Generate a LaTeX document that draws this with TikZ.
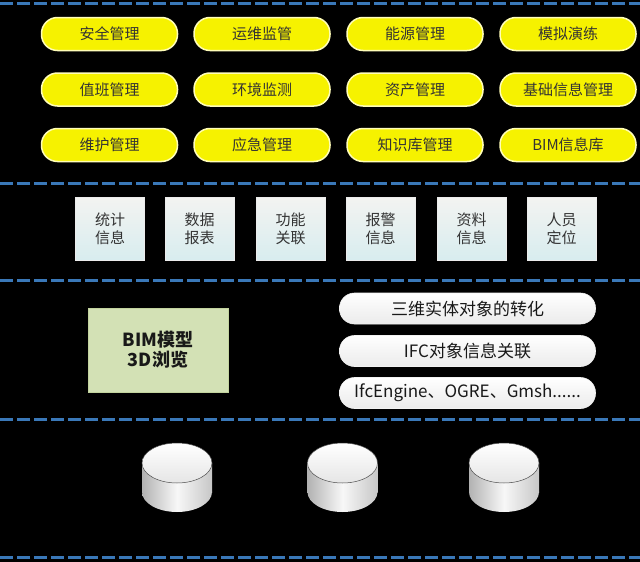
\documentclass[tikz,border=0pt]{standalone}
\usepackage{fontspec}
\setmainfont{Noto Sans CJK SC}
\definecolor{dashblue}{HTML}{3A78B8}
\definecolor{pillyellow}{HTML}{F6F200}
\definecolor{pilledge}{HTML}{FFFDB8}
\definecolor{boxtop}{HTML}{F3F3F1}
\definecolor{boxbot}{HTML}{D8EDEF}
\definecolor{bimgreen}{HTML}{D3E1B5}
\definecolor{bimedge}{HTML}{C2D39E}
\definecolor{txtgray}{HTML}{333333}
\tikzset{
  sep/.style={dashblue, line width=3pt, dash pattern=on 13pt off 4pt},
  ypill/.style={rounded corners=16pt, minimum width=136pt, minimum height=33pt, inner sep=0pt,
    fill=pillyellow, draw=pilledge, line width=1.5pt, text=txtgray,
    font=\fontsize{15}{17}\selectfont},
  gbox/.style={minimum width=69pt, minimum height=63pt, inner sep=0pt, align=center,
    top color=boxtop, bottom color=boxbot, draw=white!85!gray, line width=0.4pt,
    text=txtgray, font=\fontsize{15}{18}\selectfont},
  wpill/.style={rounded corners=15pt, minimum width=256pt, minimum height=31pt, inner sep=0pt,
    top color=white, bottom color=black!8, draw=white!90!gray, line width=0.6pt,
    text=black!90, font=\fontsize{17}{19}\selectfont},
  bimbox/.style={minimum width=140pt, minimum height=84pt, inner sep=0pt, align=center,
    fill=bimgreen, draw=bimedge, line width=0.8pt, text=black!90,
    font=\fontsize{18}{20}\selectfont\bfseries},
  dbside/.style={left color=black!30, right color=black!22, middle color=black!3},
  dbtop/.style={top color=white, bottom color=black!10, draw=black!70, line width=0.5pt}
}
\newcommand{\dbcyl}[2]{%
  \coordinate (#1) at (#2,463);
  \shade[dbside] (#2,492) ellipse (35 and 20);
  \shade[dbside] (#2-35,463) rectangle (#2+35,492);
  \shade[dbtop] (#2,463) ellipse (35 and 20);
}
\begin{document}
\begin{tikzpicture}[x=1pt,y=-1pt]
\fill[black] (0,0) rectangle (640,562);
\useasboundingbox (0,0) rectangle (640,562);
% separators
\foreach \yy/\nm in {3/s1,183/s2,280/s3,419/s4,557/s5}{
  \coordinate (\nm a) at (0,\yy);
  \coordinate (\nm b) at (640,\yy);
  \draw[sep] (\nm a) -- (\nm b);
}
% application layer
\node[ypill] (p11) at (109.5,34) {安全管理};
\node[ypill] (p12) at (262,34) {运维监管};
\node[ypill] (p13) at (415,34) {能源管理};
\node[ypill] (p14) at (568,34) {模拟演练};
\node[ypill] (p21) at (109.5,89.5) {值班管理};
\node[ypill] (p22) at (262,89.5) {环境监测};
\node[ypill] (p23) at (415,89.5) {资产管理};
\node[ypill] (p24) at (568,89.5) {基础信息管理};
\node[ypill] (p31) at (109.5,145) {维护管理};
\node[ypill] (p32) at (262,145) {应急管理};
\node[ypill] (p33) at (415,145) {知识库管理};
\node[ypill] (p34) at (568,145) {BIM信息库};
% function layer
\node[gbox] (b1) at (110,228.5) {统计\\信息};
\node[gbox] (b2) at (199.5,228.5) {数据\\报表};
\node[gbox] (b3) at (290.5,228.5) {功能\\关联};
\node[gbox] (b4) at (380.5,228.5) {报警\\信息};
\node[gbox] (b5) at (471.5,228.5) {资料\\信息};
\node[gbox] (b6) at (561.5,228.5) {人员\\定位};
% model layer
\node[bimbox] (bim) at (158,350) {BIM模型\\3D浏览};
\node[wpill] (w1) at (467.5,308.5) {三维实体对象的转化};
\node[wpill] (w2) at (467.5,351) {IFC对象信息关联};
\node[wpill] (w3) at (467.5,393) {IfcEngine、OGRE、Gmsh......};
% data layer
\dbcyl{db1}{177}
\dbcyl{db2}{342.5}
\dbcyl{db3}{504}
\end{tikzpicture}
\end{document}
